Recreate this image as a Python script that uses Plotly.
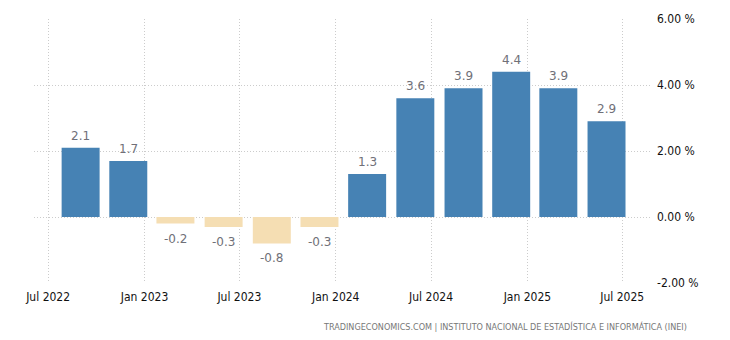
import plotly.graph_objects as go

dates = ["2022-09-01", "2022-12-01", "2023-03-01", "2023-06-01", "2023-09-01", "2023-12-01",
         "2024-03-01", "2024-06-01", "2024-09-01", "2024-12-01", "2025-03-01", "2025-06-01"]
values = [2.1, 1.7, -0.2, -0.3, -0.8, -0.3, 1.3, 3.6, 3.9, 4.4, 3.9, 2.9]
tick_dates = ["2022-07-01", "2023-01-01", "2023-07-01", "2024-01-01", "2024-07-01", "2025-01-01", "2025-07-01"]
tick_labels = ["Jul 2022", "Jan 2023", "Jul 2023", "Jan 2024", "Jul 2024", "Jan 2025", "Jul 2025"]
y_ticks = [-2, 0, 2, 4, 6]
source = "TRADINGECONOMICS.COM | INSTITUTO NACIONAL DE ESTADÍSTICA E INFORMÁTICA (INEI)"

colors = ["#4682B4" if v >= 0 else "#F5DEB3" for v in values]
day_ms = 86400000
tick_font = dict(family="DejaVu Sans Condensed, DejaVu Sans", size=12, color="#111")
label_font = dict(family="DejaVu Sans", size=12, color="#707078")

fig = go.Figure(go.Bar(
    x=dates, y=values,
    marker=dict(color=colors, line=dict(width=0)),
    width=[72.5 * day_ms] * len(values),
    hoverinfo="skip",
))

annotations = []
for d, v in zip(dates, values):
    annotations.append(dict(
        x=d, y=v, xref="x", yref="y", text=f"{v:.1f}", showarrow=False,
        yanchor="bottom" if v >= 0 else "top",
        yshift=3 if v >= 0 else -6,
        font=label_font,
    ))
annotations.append(dict(
    text=source, xref="paper", yref="paper", x=1.063, y=-0.136,
    xanchor="right", yanchor="top", showarrow=False,
    font=dict(family="DejaVu Sans Condensed, Liberation Sans", size=9, color="#777"),
))

fig.update_layout(
    width=730, height=340,
    margin=dict(l=34, r=80, t=19, b=57),
    paper_bgcolor="white", plot_bgcolor="white",
    showlegend=False,
    font=dict(family="DejaVu Sans", size=11, color="#222"),
    xaxis=dict(
        type="date",
        range=["2022-06-04", "2025-08-23"],
        tickvals=tick_dates, ticktext=tick_labels,
        showgrid=True, gridcolor="#cccccc", griddash="1px,2px", gridwidth=1,
        zeroline=False, showline=False, ticks="",
        ticklabelstandoff=5,
        tickfont=tick_font,
    ),
    yaxis=dict(
        side="right", range=[-2, 6],
        tickvals=y_ticks, ticktext=[f"{t:.2f} %" for t in y_ticks],
        showgrid=True, gridcolor="#cccccc", griddash="1px,2px", gridwidth=1,
        zeroline=False, showline=False, ticks="",
        ticklabelstandoff=6,
        tickfont=tick_font,
    ),
    annotations=annotations,
)

fig.write_html("out.html")
